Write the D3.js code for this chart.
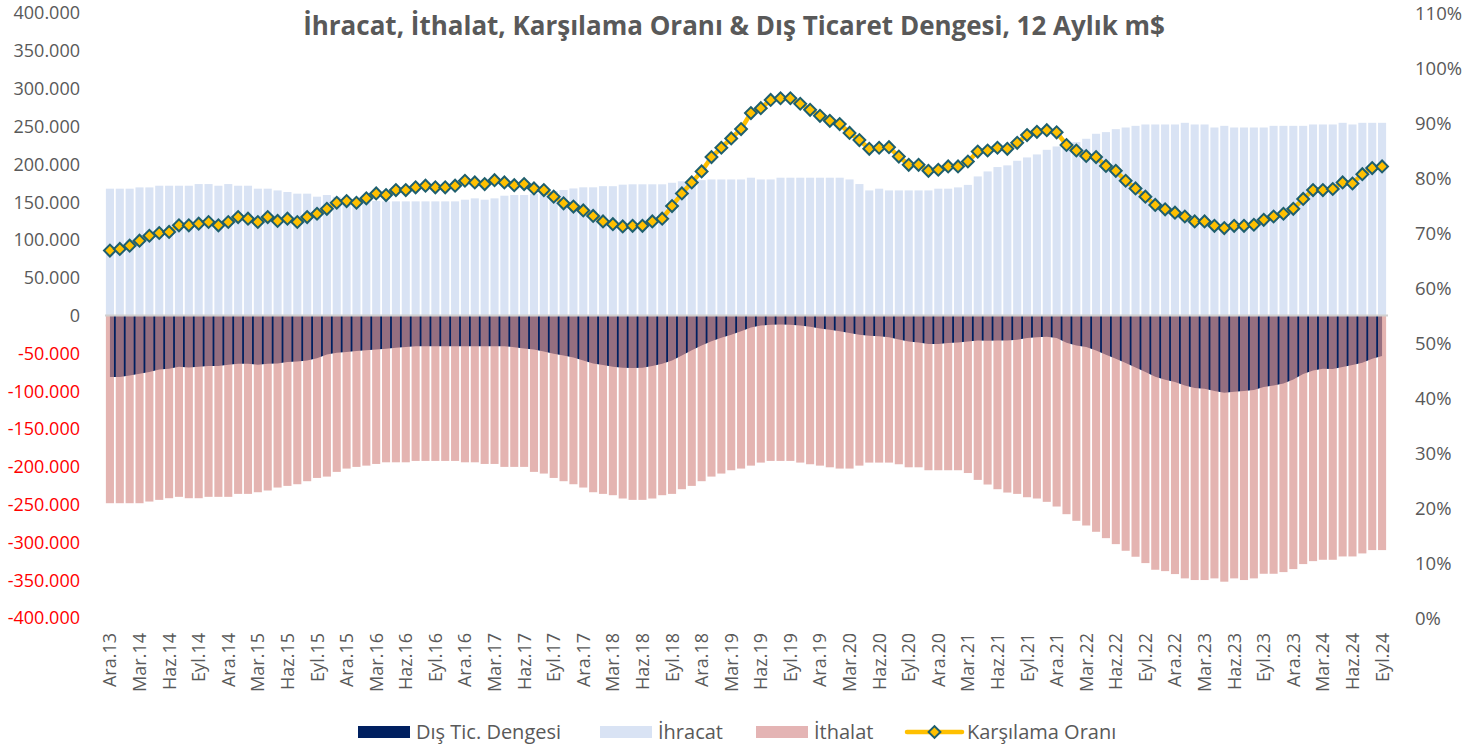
<!DOCTYPE html>
<html>
<head>
<meta charset="utf-8">
<script src="https://cdn.jsdelivr.net/npm/d3@7"></script>
<style>
  body { margin: 0; background: #fff; }
  svg text { font-family: "Open Sans", sans-serif; fill: #595959; }
</style>
</head>
<body>
<div id="chart"></div>
<script>
// 12 aylık kümülatif dış ticaret, milyon $ (Ara.13 - Eyl.24)
const monthNames = ["Oca","Şub","Mar","Nis","May","Haz","Tem","Ağu","Eyl","Eki","Kas","Ara"];
const startMonth = 11;  // Aralık
const startYear = 13;
const nMonths = 130;

const exportsData = [
  167700,167700,167700,169400,169400,171600,171600,171600,171600,173800,
  173800,171600,173800,171600,171600,167700,167700,165400,163300,161100,
  161100,157100,159300,157000,155500,154000,152500,151500,150900,150900,
  150900,150900,150900,150900,150900,150900,153100,154900,153100,154900,
  158400,159300,159300,160600,162800,164600,166000,168000,169500,169500,
  171000,171000,173000,173500,173500,173500,173500,175500,177500,178200,
  179000,179900,179900,179900,179900,182200,179900,179900,182200,182200,
  182200,182200,182200,182200,182200,179900,173800,165400,167700,165400,
  165400,165400,165400,165400,167700,167700,169400,172700,183900,190500,
  196300,198500,204600,209000,213000,219100,223500,227900,229300,233700,
  240300,242500,246400,248600,250800,252600,252600,252600,252600,254800,
  252600,252600,248600,250800,248600,248600,248600,248600,250800,250800,
  250800,250800,252600,252600,252600,254800,252600,254800,254800,254800
];

const importsData = [
  -248200,-248200,-248200,-248200,-246000,-243800,-241600,-239800,-241600,-241600,
  -239800,-239800,-239800,-235900,-235900,-233700,-231400,-227500,-225300,-223100,
  -219100,-214800,-213000,-206800,-202400,-200200,-198500,-196300,-194100,-194100,
  -194100,-192300,-192300,-192300,-192300,-192300,-194100,-194100,-196300,-196300,
  -200200,-200200,-200200,-206800,-209000,-214800,-219100,-223100,-227500,-233700,
  -235900,-237600,-242000,-243800,-243800,-242000,-237600,-235900,-229700,-225300,
  -219100,-213000,-209000,-204600,-202400,-198500,-194500,-192300,-192300,-192300,
  -194500,-196700,-198500,-200700,-202400,-202400,-198500,-194500,-194500,-194500,
  -196700,-200700,-200700,-204600,-204600,-204600,-204600,-208300,-217400,-223500,
  -229700,-234100,-235900,-240300,-242000,-246400,-252600,-262700,-271500,-277700,
  -286000,-294400,-302300,-311100,-319000,-327400,-336200,-338000,-341900,-347600,
  -349800,-349800,-347600,-352000,-347600,-349800,-347600,-341500,-341500,-339300,
  -335300,-328700,-324800,-323000,-323000,-318600,-318600,-314600,-310200,-310200
];

const balanceData = [
  -81400,-81400,-79200,-77000,-74800,-71300,-70400,-67800,-68600,-67800,
  -66900,-66900,-65100,-63800,-63800,-65100,-63800,-63400,-61600,-60700,
  -59400,-56500,-51500,-49300,-48400,-47100,-45800,-44900,-44000,-42700,
  -41800,-40500,-40500,-40500,-40500,-40500,-40500,-40500,-40500,-40500,
  -40500,-42000,-43500,-44900,-47500,-50600,-52800,-55400,-59400,-63400,
  -65600,-67800,-69100,-69500,-69100,-66900,-63800,-59400,-52800,-45800,
  -39600,-33900,-29500,-25500,-20700,-15800,-13200,-12300,-11900,-12300,
  -13200,-14900,-17200,-18900,-20700,-23300,-25500,-26800,-27300,-28600,
  -31700,-34300,-35600,-37800,-37800,-36500,-35600,-34300,-33000,-33400,
  -33000,-33000,-32100,-29900,-28600,-28200,-29900,-36100,-39600,-41800,
  -46200,-51900,-57200,-62900,-68600,-74800,-81000,-84900,-88000,-92400,
  -95900,-96800,-99900,-102100,-100800,-99900,-98600,-94600,-92400,-89800,
  -84500,-77500,-72600,-70400,-70800,-68200,-65600,-62500,-57200,-53700
];

// Karşılama oranı, %
const coverageData = [
  66.8,67.1,67.7,68.6,69.5,70.0,70.2,71.4,71.4,71.7,
  72.0,71.4,72.0,72.9,72.6,72.0,72.9,72.2,72.6,72.0,
  72.9,73.5,74.4,75.5,75.8,75.5,76.3,77.2,76.9,77.8,
  77.8,78.3,78.6,78.3,78.3,78.6,79.5,79.2,78.9,79.6,
  79.2,78.7,78.9,78.1,77.8,76.6,75.4,74.8,74.1,73.1,
  72.1,71.6,71.2,71.3,71.3,72.1,72.6,74.9,77.2,79.2,
  81.2,83.8,85.5,87.2,88.9,91.8,92.7,94.2,94.5,94.5,
  93.5,92.4,91.3,90.4,89.8,88.2,86.9,85.3,85.5,85.6,
  83.9,82.4,82.4,81.3,81.5,82.1,82.1,83.0,84.8,85.0,
  85.5,85.3,86.4,87.8,88.4,88.7,88.3,86.0,85.0,84.0,
  83.8,82.2,81.3,79.5,78.1,76.6,75.1,74.3,73.7,73.0,
  72.1,72.1,71.3,70.9,71.3,71.3,71.5,72.4,73.0,73.5,
  74.4,76.2,77.8,77.8,78.0,79.2,79.0,80.7,81.8,82.1
];

const leftTicks = d3.range(-400000, 400001, 50000);
const rightTicks = d3.range(0, 111, 10);

const title = "İhracat, İthalat, Karşılama Oranı & Dış Ticaret Dengesi, 12 Aylık m$";
const legendItems = [
  {name: "Dış Tic. Dengesi", type: "rect", color: "#002060"},
  {name: "İhracat", type: "rect", color: "#D9E3F4"},
  {name: "İthalat", type: "rect", color: "#E4B4B4"},
  {name: "Karşılama Oranı", type: "line", color: "#FFC000"}
];

// ay etiketleri
const categories = d3.range(nMonths).map(function(k) {
  const m = (startMonth + k) % 12;
  const y = startYear + Math.floor((startMonth + k) / 12);
  return monthNames[m] + "." + y;
});

const rows = categories.map((c, i) => ({
  cat: c, exp: exportsData[i], imp: importsData[i], bal: balanceData[i], cov: coverageData[i]
}));

// boyutlar
const width = 1480;
const height = 749;
const plot = {left: 105, right: 1387, top: 13, bottom: 618};

const svg = d3.select("#chart")
  .append("svg")
  .attr("width", width)
  .attr("height", height);

const x = d3.scaleBand()
  .domain(categories)
  .range([plot.left, plot.right])
  .paddingInner(0.18)
  .paddingOuter(0.09);
const cx = d => x(d.cat) + x.bandwidth() / 2;

const yLeft = d3.scaleLinear().domain([-400000, 400000]).range([plot.bottom, plot.top]);
const yRight = d3.scaleLinear().domain([0, 110]).range([plot.bottom, plot.top]);

const trLocale = d3.formatLocale({decimal: ",", thousands: ".", grouping: [3], currency: ["", "$"], minus: "-"});
const fmt = trLocale.format(",d");

// ihracat çubukları
svg.append("g")
  .selectAll("rect")
  .data(rows)
  .join("rect")
    .attr("x", d => x(d.cat))
    .attr("width", x.bandwidth())
    .attr("y", d => yLeft(d.exp))
    .attr("height", d => yLeft(0) - yLeft(d.exp))
    .attr("fill", "#D9E3F4");

// dış ticaret dengesi (alan)
const area = d3.area()
  .x(cx)
  .y0(yLeft(0))
  .y1(d => yLeft(d.bal));
svg.append("path")
  .datum(rows)
  .attr("d", area)
  .attr("fill", "#002060");

// ithalat çubukları, yarı saydam
svg.append("g")
  .selectAll("rect")
  .data(rows)
  .join("rect")
    .attr("x", d => x(d.cat))
    .attr("width", x.bandwidth())
    .attr("y", yLeft(0))
    .attr("height", d => yLeft(d.imp) - yLeft(0))
    .attr("fill", "rgb(216,147,142)")
    .attr("fill-opacity", 0.69);

// sıfır çizgisi
svg.append("line")
  .attr("x1", plot.left).attr("x2", plot.right + 1)
  .attr("y1", yLeft(0)).attr("y2", yLeft(0))
  .attr("stroke", "#D0D0D0")
  .attr("stroke-width", 2);

// sol eksen
svg.append("g")
  .selectAll("text")
  .data(leftTicks)
  .join("text")
    .attr("x", 80)
    .attr("y", d => yLeft(d))
    .attr("dy", "0.36em")
    .attr("text-anchor", "end")
    .attr("font-size", "18px")
    .style("fill", d => d < 0 ? "#FF0000" : "#595959")
    .text(d => fmt(d));

// sağ eksen
svg.append("g")
  .selectAll("text")
  .data(rightTicks)
  .join("text")
    .attr("x", 1415)
    .attr("y", d => yRight(d))
    .attr("dy", "0.36em")
    .attr("font-size", "18.5px")
    .text(d => d + "%");

// x ekseni etiketleri (3 ayda bir)
svg.append("g")
  .selectAll("text")
  .data(rows.filter((d, i) => i % 3 === 0))
  .join("text")
    .attr("transform", d => `translate(${cx(d)},633) rotate(-90)`)
    .attr("dy", "0.36em")
    .attr("text-anchor", "end")
    .attr("font-size", "18px")
    .text(d => d.cat);

// karşılama oranı çizgisi
const line = d3.line()
  .x(cx)
  .y(d => yRight(d.cov));
svg.append("path")
  .datum(rows)
  .attr("d", line)
  .attr("fill", "none")
  .attr("stroke", "#FFC000")
  .attr("stroke-width", 4.5);

const diamond = d3.symbol().type(d3.symbolSquare).size(70);
svg.append("g")
  .selectAll("path")
  .data(rows)
  .join("path")
    .attr("d", diamond)
    .attr("transform", d => `translate(${cx(d)},${yRight(d.cov)}) rotate(45)`)
    .attr("fill", "#FFC000")
    .attr("stroke", "#1F5F6E")
    .attr("stroke-width", 2);

// başlık
const titleText = svg.append("text")
  .attr("x", 734)
  .attr("y", 35)
  .attr("text-anchor", "middle")
  .attr("font-size", "22px")
  .attr("font-weight", "bold")
  .text(title);
const tl = titleText.node().getComputedTextLength();
titleText.attr("font-size", (22 * 862 / tl).toFixed(2) + "px");

// lejant
const legendX = [358, 600, 756, 907];
const legend = svg.append("g");
legendItems.forEach(function(item, i) {
  const g = legend.append("g").attr("transform", `translate(${legendX[i]},732)`);
  if (item.type === "rect") {
    g.append("rect")
      .attr("x", 0).attr("y", -6)
      .attr("width", 52).attr("height", 12)
      .attr("fill", item.color);
  } else {
    g.append("line")
      .attr("x1", 0).attr("x2", 55)
      .attr("y1", 0).attr("y2", 0)
      .attr("stroke", item.color)
      .attr("stroke-width", 4.5)
      .attr("stroke-linecap", "round");
    g.append("path")
      .attr("d", diamond)
      .attr("transform", "translate(27.5,0) rotate(45)")
      .attr("fill", item.color)
      .attr("stroke", "#1F5F6E")
      .attr("stroke-width", 2);
  }
  g.append("text")
    .attr("x", item.type === "rect" ? 58 : 60)
    .attr("dy", "0.36em")
    .attr("font-size", "20px")
    .text(item.name);
});
</script>
</body>
</html>
